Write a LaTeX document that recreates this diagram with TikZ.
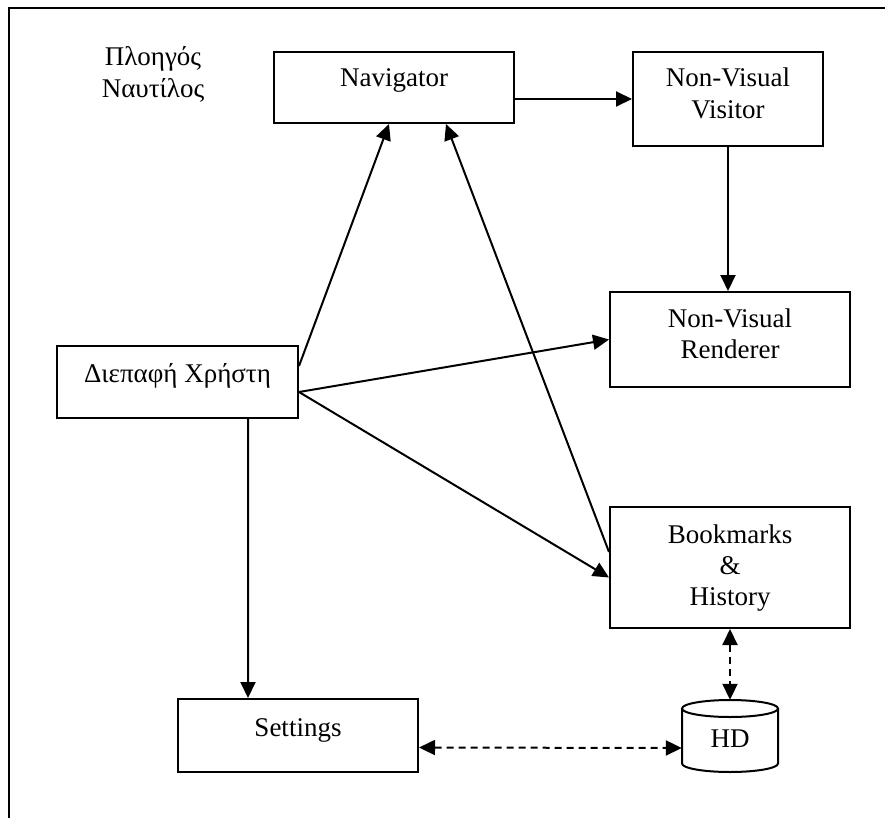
\documentclass[tikz,border=0pt]{standalone}
\usepackage{fontspec}
\setmainfont{Liberation Serif}
\usetikzlibrary{arrows.meta,calc}
\begin{document}
\begin{tikzpicture}[x=1bp,y=-1bp,
  box/.style={draw,line width=2bp,minimum width=#1,inner sep=0pt},
  lbl/.style={font=\fontsize{27bp}{31bp}\selectfont,align=center,inner sep=0pt,anchor=base},
  conn/.style={line width=2bp,-{Triangle[length=16bp,width=15bp]}},
  dconn/.style={line width=2bp,dash pattern=on 7bp off 5bp,{Triangle[length=16bp,width=15bp]}-{Triangle[length=16bp,width=15bp]}}]
\useasboundingbox (0,0) rectangle (885,818);
% open frame: top and left edges
\draw[line width=2.4bp] (9,818) -- (9,8) -- (885,8);
% boxes
\node[box=240bp,minimum height=71bp] (nav) at (394,87.5) {};
\node[box=190bp,minimum height=94bp] (vis) at (728,99) {};
\node[box=240bp,minimum height=95bp] (ren) at (730,339.5) {};
\node[box=241bp,minimum height=72bp] (ui) at (177.5,382) {};
\node[box=240bp,minimum height=121bp] (bm) at (730,567.5) {};
\node[box=240bp,minimum height=73bp] (set) at (298,735.5) {};
% disk cylinder
\node[minimum width=96bp,minimum height=72bp,inner sep=0pt] (hd) at (730,736) {};
\draw[line width=2bp] (682,708.5) -- (682,763.5) arc[start angle=180,end angle=360,x radius=48,y radius=-8.5] -- (778,708.5);
\draw[line width=2bp] (730,708.5) ellipse[x radius=48,y radius=8.5];
% labels (base anchor sits on the last line's baseline)
\node[lbl] (title) at (153,97) {Πλοηγός\\Ναυτίλος};
\node[lbl] (navt) at ($(nav.north)+(0,36)$) {Navigator};
\node[lbl] (vist) at ($(vis.north)+(0,67)$) {Non-Visual\\Visitor};
\node[lbl] (rent) at ($(ren.north)+(0,67)$) {Non-Visual\\Renderer};
\node[lbl] (uit) at ($(ui.north)+(0,37)$) {Διεπαφή Χρήστη};
\node[lbl] (bmt) at ($(bm.north)+(0,99)$) {Bookmarks\\\&\\History};
\node[lbl] (sett) at ($(set.north)+(0,38)$) {Settings};
\node[lbl] (hdt) at ($(hd.north)+(0,48)$) {HD};
% connectors
\draw[conn] (nav.east |- vis.west) -- (vis.west);
\draw[conn] (vis.south) -- (vis.south |- ren.north);
\draw[conn] ($(ui.north east)+(0,21)$) -- ($(nav.south west)+(116,0)$);
\draw[conn] ($(ui.north east)+(0,47)$) -- (ren.west);
\draw[conn] ($(ui.north east)+(0,47)$) -- ($(bm.west)+(0,10)$);
\draw[conn] ($(bm.north west)+(0,46)$) -- ($(nav.south west)+(173,0)$);
\draw[conn] ($(ui.south west)+(192,0)$) -- ($(set.north west)+(71,0)$);
\draw[dconn] ($(set.east)+(0,12)$) -- ($(hd.west)+(0,12)$);
\draw[dconn] (bm.south) -- (hd.north);
\end{tikzpicture}
\end{document}
